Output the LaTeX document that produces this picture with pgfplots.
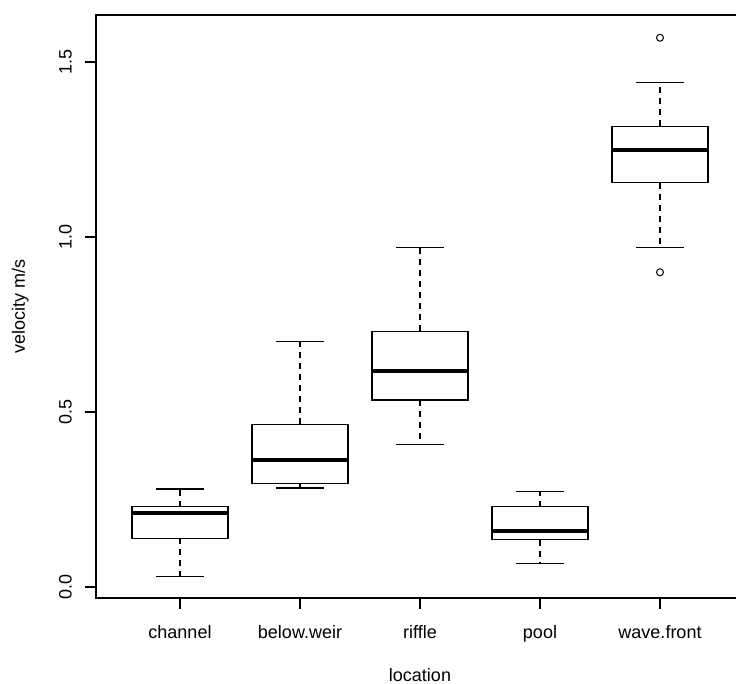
\documentclass[border=0pt]{standalone}
\usepackage{fontspec}
\setmainfont{Liberation Sans}
\usepackage{pgfplots}
\pgfplotsset{compat=1.18}
\usepgfplotslibrary{statistics}
\begin{document}
\begin{tikzpicture}
\pgfplotsset{
  rbox/.style={
    black, solid, line width=1.2bp, mark=o, mark size=3.5bp,
    mark options={solid, line width=1bp},
    boxplot/draw direction=y,
    boxplot/box extend=0.8,
    boxplot/whisker extend=0.4,
    boxplot/every median/.style={line width=4bp},
    boxplot/draw/lower whisker/.code={
      \draw[line width=1.2bp, dash pattern=on 6bp off 5bp]
        (boxplot box cs:\pgfplotsboxplotvalue{lower quartile},0.5) --
        (boxplot box cs:\pgfplotsboxplotvalue{lower whisker},0.5);
      \draw[line width=1.2bp, solid]
        (boxplot whisker cs:\pgfplotsboxplotvalue{lower whisker},0) --
        (boxplot whisker cs:\pgfplotsboxplotvalue{lower whisker},1);
    },
    boxplot/draw/upper whisker/.code={
      \draw[line width=1.2bp, dash pattern=on 6bp off 5bp]
        (boxplot box cs:\pgfplotsboxplotvalue{upper quartile},0.5) --
        (boxplot box cs:\pgfplotsboxplotvalue{upper whisker},0.5);
      \draw[line width=1.2bp, solid]
        (boxplot whisker cs:\pgfplotsboxplotvalue{upper whisker},0) --
        (boxplot whisker cs:\pgfplotsboxplotvalue{upper whisker},1);
    },
  }
}
\begin{axis}[
  scale only axis, width=648bp, height=583bp,
  xmin=0.3, xmax=5.7, ymin=-0.0315, ymax=1.634,
  axis line style={line width=1.2bp},
  tick pos=left,
  tick align=outside,
  major tick length=11bp,
  tick style={black, line width=1.2bp},
  xtick={1,2,3,4,5},
  xticklabels={channel,below.weir,riffle,pool,wave.front},
  ytick={0,0.5,1,1.5},
  yticklabels={0.0,0.5,1.0,1.5},
  tick label style={font=\fontsize{18bp}{21bp}\selectfont},
  label style={font=\fontsize{18bp}{21bp}\selectfont},
  xticklabel style={anchor=north, inner sep=0pt, text height=13bp, text depth=4bp},
  yticklabel style={rotate=90, anchor=south, inner sep=0pt},
  xticklabel shift=16bp,
  yticklabel shift=13bp,
  xlabel={location},
  ylabel={velocity m/s},
  xlabel style={at={(axis description cs:0.5,-0.1424)}, anchor=base, inner sep=0pt},
  ylabel style={at={(axis description cs:-0.1096,0.5)}, anchor=base, rotate=0, inner sep=0pt},
  clip=false,
]
\addplot[rbox, boxplot prepared={draw position=1, lower whisker=0.031, lower quartile=0.139, median=0.212, upper quartile=0.229, upper whisker=0.280}] coordinates {};
\addplot[rbox, boxplot prepared={draw position=2, lower whisker=0.283, lower quartile=0.296, median=0.362, upper quartile=0.465, upper whisker=0.701}] coordinates {};
\addplot[rbox, boxplot prepared={draw position=3, lower whisker=0.408, lower quartile=0.534, median=0.617, upper quartile=0.730, upper whisker=0.970}] coordinates {};
\addplot[rbox, boxplot prepared={draw position=4, lower whisker=0.068, lower quartile=0.135, median=0.159, upper quartile=0.229, upper whisker=0.273}] coordinates {};
\addplot[rbox, boxplot prepared={draw position=5, lower whisker=0.970, lower quartile=1.155, median=1.249, upper quartile=1.316, upper whisker=1.441}] coordinates {(0,1.569) (0,0.899)};
\coordinate (bl) at (rel axis cs:0,0);
\coordinate (tr) at (rel axis cs:1,1);
\end{axis}
\pgfresetboundingbox
\path[use as bounding box] ([xshift=-96bp,yshift=-86bp]bl) rectangle ([xshift=-8bp,yshift=15bp]tr);
\end{tikzpicture}
\end{document}
